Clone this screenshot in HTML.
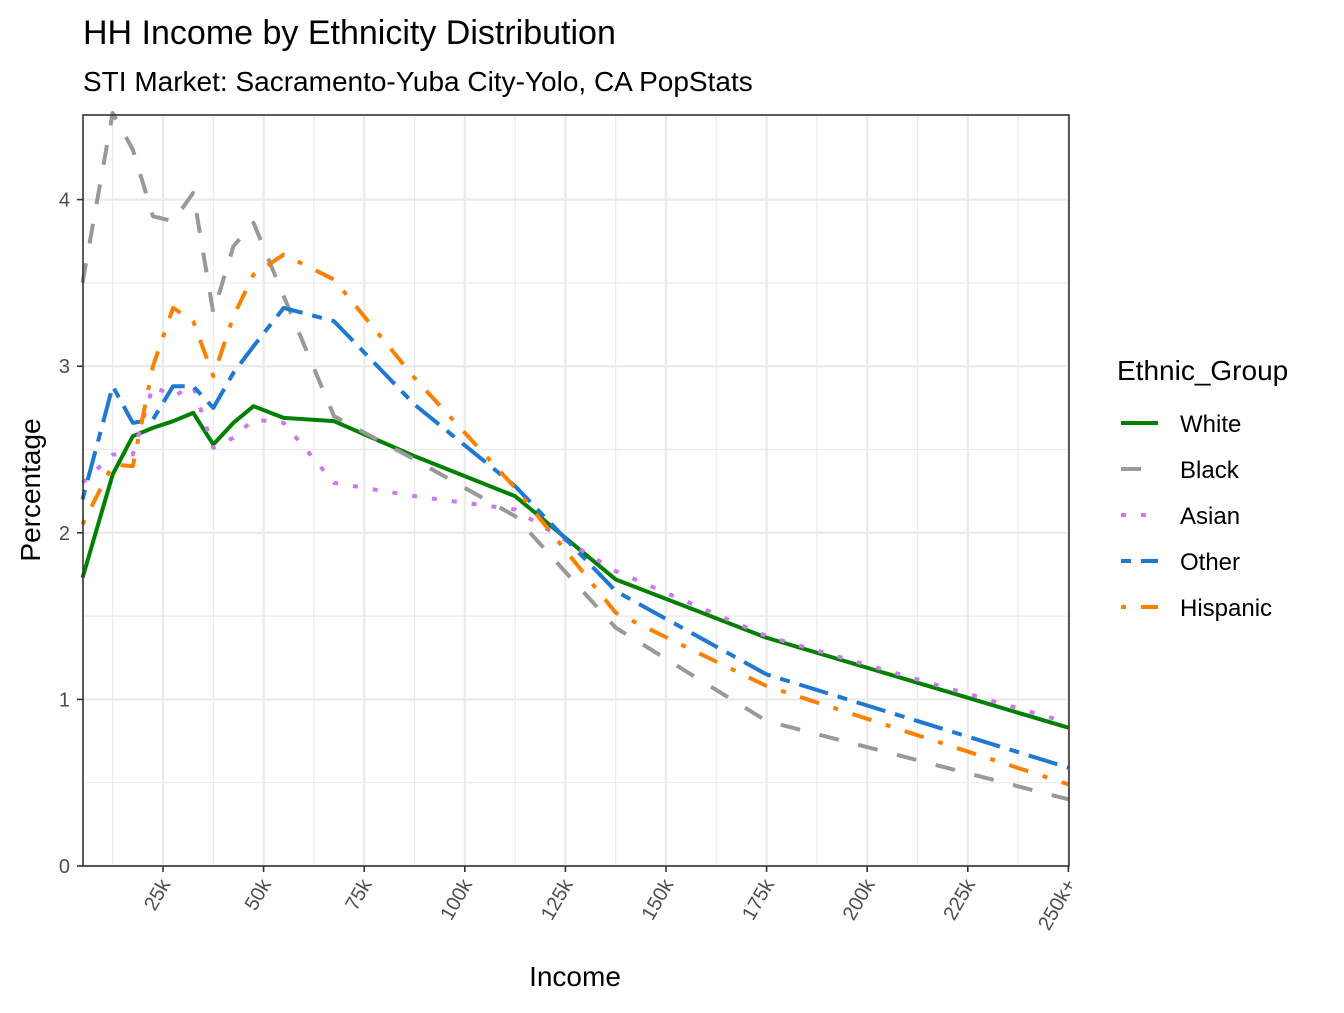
<!DOCTYPE html>
<html><head><meta charset="utf-8"><style>
body{margin:0;background:#fff;}
svg text{font-family:"Liberation Sans",Arial,sans-serif;}
</style></head><body>
<svg id="chart" width="1344" height="1008" xmlns="http://www.w3.org/2000/svg">
<rect width="1344" height="1008" fill="#fff"/>
<text x="83" y="44" font-size="34" fill="#000">HH Income by Ethnicity Distribution</text>
<text x="83" y="91" font-size="28" fill="#000">STI Market: Sacramento-Yuba City-Yolo, CA PopStats</text>
<g id="grid"></g>
<g id="series"></g>
<rect x="83" y="115" width="986" height="751" fill="none" stroke="#333" stroke-width="1.6"/>
<g id="axes"></g>
<text transform="translate(40,490) rotate(-90)" text-anchor="middle" font-size="28" fill="#000">Percentage</text>
<text x="575" y="986" text-anchor="middle" font-size="28" fill="#000">Income</text>
<g id="legend">
<text x="1117" y="380" font-size="28" fill="#000">Ethnic_Group</text>
</g>
</svg>
<script>
const incomeK=[5,12.5,17.5,22.5,27.5,32.5,37.5,42.5,47.5,55,67.5,87.5,112.5,137.5,175,250];
const seriesNames=["White","Black","Asian","Other","Hispanic"];
const white=[1.73,2.35,2.58,2.63,2.67,2.72,2.53,2.66,2.76,2.69,2.67,2.46,2.22,1.72,1.37,0.83];
const black=[3.5,4.52,4.3,3.9,3.87,4.04,3.32,3.72,3.86,3.42,2.7,2.44,2.1,1.43,0.87,0.4];
const asian=[2.3,2.47,2.47,2.88,2.82,2.88,2.51,2.57,2.68,2.66,2.3,2.22,2.14,1.77,1.38,0.86];
const other=[2.2,2.88,2.66,2.68,2.88,2.88,2.75,2.96,3.12,3.35,3.27,2.77,2.28,1.65,1.15,0.59];
const hispanic=[2.05,2.41,2.4,3.0,3.35,3.27,2.94,3.3,3.55,3.67,3.52,2.93,2.27,1.52,1.08,0.49];
const yTicks=[0,1,2,3,4];
const xTickVals=[25,50,75,100,125,150,175,200,225,250];
const xTickLabels=["25k","50k","75k","100k","125k","150k","175k","200k","225k","250k+"];
const colors=["#008000","#999999","#cc79f0","#1f78d1","#ff7f00"];
const dashes=["none","20 20","5 15","10 10 30 10","5 15 20 15"];
const data=[white,black,asian,other,hispanic];
const X=k=>62.4+k*4.024;
const Y=v=>866-v*166.6;
const NS="http://www.w3.org/2000/svg";
function mk(tag,attrs,parent){const e=document.createElementNS(NS,tag);for(const a in attrs)e.setAttribute(a,attrs[a]);parent.appendChild(e);return e;}
const grid=document.getElementById('grid');
for(let v=0.5;v<4.5;v+=1){const l=mk('line',{x1:83,x2:1069,y1:Y(v),y2:Y(v),stroke:'#ebebeb','stroke-width':1.2},grid);

}
for(let k=12.5;k<250;k+=25){const l=mk('line',{x1:X(k),x2:X(k),y1:115,y2:866,stroke:'#ebebeb','stroke-width':1.2},grid);

}
yTicks.forEach(v=>{const l=mk('line',{x1:83,x2:1069,y1:Y(v),y2:Y(v),stroke:'#ebebeb','stroke-width':2.4},grid);

});
xTickVals.forEach(k=>{const l=mk('line',{x1:X(k),x2:X(k),y1:115,y2:866,stroke:'#ebebeb','stroke-width':2.4},grid);

});
const sg=document.getElementById('series');
data.forEach((arr,i)=>{const pts=arr.map((v,j)=>X(incomeK[j])+','+Y(v)).join(' ');
const p=mk('polyline',{points:pts,fill:'none',stroke:colors[i],'stroke-width':4,'stroke-dasharray':dashes[i],'stroke-linejoin':'round'},sg);

});
const ax=document.getElementById('axes');
yTicks.forEach(v=>{const t=mk('line',{x1:77,x2:83,y1:Y(v),y2:Y(v),stroke:'#333','stroke-width':1.6},ax);


const tx=mk('text',{x:70,y:Y(v)+7,'text-anchor':'end','font-size':20,fill:'#4d4d4d'},ax);tx.textContent=v;

});
xTickVals.forEach((k,i)=>{const t=mk('line',{x1:X(k),x2:X(k),y1:866,y2:872,stroke:'#333','stroke-width':1.6},ax);


const tx=mk('text',{transform:`translate(${X(k)+8},${884}) rotate(-60)`,'text-anchor':'end','font-size':20,fill:'#4d4d4d'},ax);tx.textContent=xTickLabels[i];

});
const lg=document.getElementById('legend');
seriesNames.forEach((n,i)=>{const y=423+i*46;
const l=mk('line',{x1:1121,x2:1158,y1:y,y2:y,stroke:colors[i],'stroke-width':4,'stroke-dasharray':dashes[i]},lg);


const t=mk('text',{x:1180,y:y+9,'font-size':24,fill:'#000'},lg);t.textContent=n;

});
</script>
</body></html>
